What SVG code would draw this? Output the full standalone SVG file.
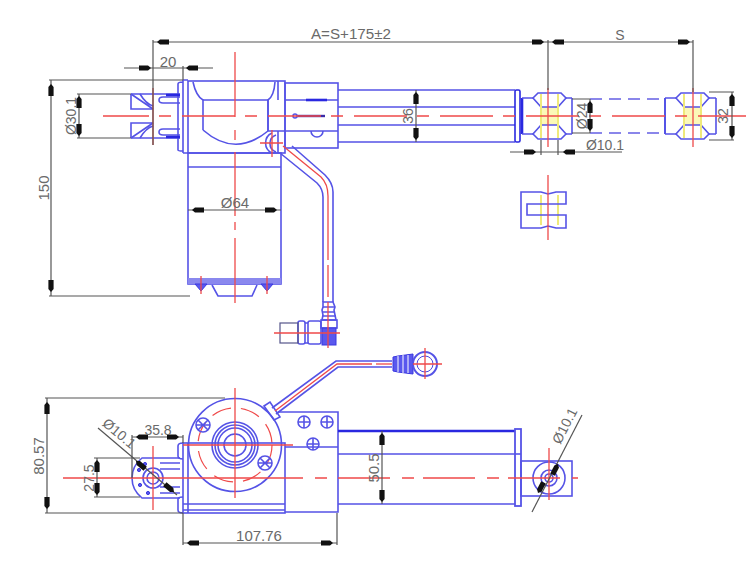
<svg xmlns="http://www.w3.org/2000/svg" xmlns:xlink="http://www.w3.org/1999/xlink" width="750" height="574" viewBox="0 0 750 574">
<style>
.b{fill:none;stroke:#5553e6;stroke-width:1.6}
.bt{fill:none;stroke:#2a28e0;stroke-width:2.6}
.bd{fill:none;stroke:#8a86ea;stroke-width:1.8;stroke-dasharray:12 7}
.bf{fill:#5a58ee;stroke:#3a38e0;stroke-width:1}
.r{fill:none;stroke:#ef4a4a;stroke-width:1.3}
.rd{fill:none;stroke:#ef4a4a;stroke-width:1.3}
.rc{fill:none;stroke:#ef4a4a;stroke-width:1.2;stroke-dasharray:20 10}
.y{fill:none;stroke:#efe97a;stroke-width:2}
.d{fill:none;stroke:#555;stroke-width:1.2}
.t{font-family:"Liberation Sans",Arial,sans-serif;font-size:14px;fill:#6a6a6a;text-anchor:middle}
.ar{fill:#111}
</style>
<defs>
<path id="ar" class="ar" d="M0 0L-3 -2.6L-12 -2.6L-12 2.6L-3 2.6Z"/>
<g id="clv">
<rect x="8" y="-9" width="17" height="18" fill="#fbf8b8"/>
<path class="b" d="M0 -18L5 -23L28 -23L33 -18L25 -9L8 -9Z"/>
<path class="b" d="M0 18L5 23L28 23L33 18L25 9L8 9Z"/>
<path class="y" d="M8 -22V22M25 -22V22"/>
</g>
<g id="scr">
<circle class="b" r="6"/><path class="b" d="M-6 0H6M0 -6V6"/>
</g>
</defs>

<g id="motor-top">
<rect class="b" x="188" y="153" width="93" height="131"/>
<path class="b" d="M188 167H281"/>
<rect x="188" y="278" width="93" height="6" fill="#8a88ee"/>
<path class="b" d="M212 285L218 296H252L257 285"/>
<path class="bf" d="M195 284H207L201 291ZM261 284H273L267 291Z"/>
<path class="r" d="M201 276V294M267 276V294"/>
</g>

<g id="body-top">
<rect class="b" x="188" y="81" width="97" height="72"/>
<rect class="b" x="285" y="83" width="53" height="65"/>
<path class="b" d="M183 80H188M183 153H188M183 80V153M178 84Q178 82 183 82M178 84V150Q178 151 183 151"/>
<path class="b" d="M193 82Q196 96 203 100V130M275 82Q274 96 268 100V131"/>
<path class="b" d="M203 100H268M203 130Q235 158 268 131M268 100V131"/>
<path class="b" d="M278 81V100M278 131V153M285 100H338M268 131H338"/>
<path class="bt" d="M306 100H327"/>
<path class="b" d="M311 131A6 6 0 0 0 323 131"/>
<path d="M297 116H325" stroke="#3a2aa8" stroke-width="2.4" fill="none"/>
<circle class="b" cx="295" cy="116" r="2"/>
</g>

<g id="rod-top">
<path class="b" d="M338 90H515M338 142H515M338 107H515M338 125H515"/>
<rect class="bt" x="515" y="90" width="5" height="52" rx="1.5" style="stroke-width:1.6"/>
<path class="bt" d="M522 98V134"/>
<path class="b" d="M522 98H533M522 134H533M566 98H572M566 134H572M572 98V134"/>
</g>

<g id="clevis-front">
<use xlink:href="#clv" href="#clv" transform="translate(533 116)"/>
</g>

<g id="rod-ext">
<path class="bd" d="M590 99H665M590 133H665"/>
<path class="bt" d="M665 98V134" style="stroke-width:1.6"/>
<path class="b" d="M665 98H676M665 134H676M709 98H716M709 134H716M716 98V134"/>
<use xlink:href="#clv" href="#clv" transform="translate(676 116)"/>
</g>

<g id="clevis-side">
<path class="y" d="M541 195V225M558 195V225"/>
<path class="b" d="M521 192H541L548 194L556 192H566V204H527V215H566V228H556L548 226L541 228H521Z"/>
</g>

<g id="clevis-rear">
<path class="b" d="M131 94H180M131 94V109H153M131 138V123H153M131 138H180"/>
<path class="b" d="M131 94L153 109M131 138L153 123M140 94Q146 104 153 106M140 138Q146 128 153 126"/>
<path class="b" d="M180 97H163Q159 97 159 100Q159 103 163 103H180M180 135H163Q159 135 159 132Q159 129 163 129H180"/>
<path class="bt" d="M166 95H180M166 137H180"/>
</g>

<g id="cable-top">
<path class="b" d="M280 153L317 183Q323 189 323 197V302M292 146L325 175Q333 183 333 192V302"/>
<path class="b" d="M272 133A11 11 0 0 0 272 153M276 135A9 9 0 0 0 276 152"/>
<path class="r" d="M283 146L321 177Q328 184 328 196V260M328 265V297"/>
<path class="r" d="M260 143H283M272 130V157"/>
</g>

<g id="plug-top">
<path class="b" d="M323 302H333L335 307L334 310L335 315L336 320H322L323 315L322 310L323 307Z"/>
<path class="b" d="M323 307H335M322 312H335M322 316H336"/>
<rect class="b" x="321" y="320" width="16" height="8"/>
<rect class="bf" x="322" y="328" width="14" height="17"/>
<rect class="b" x="308" y="321" width="13" height="23" rx="2"/>
<rect class="b" x="298" y="321" width="7" height="23" rx="2"/>
<path class="b" d="M305 323H308M305 343H308"/>
<rect x="280" y="323" width="18" height="20" fill="none" stroke="#55558a" stroke-width="1.2"/>
<path class="r" d="M274 333H340M328 302V348"/>
</g>

<g id="housing-bottom">
<circle class="b" cx="235" cy="445" r="46.5"/>
<circle class="rc" cx="235" cy="445" r="37"/>
<circle class="b" cx="235" cy="445" r="23"/>
<circle class="b" cx="235" cy="445" r="20"/>
<circle class="b" cx="235" cy="445" r="17"/>
<circle class="b" cx="235" cy="445" r="11"/>
<circle class="b" cx="203" cy="425" r="7"/>
<path class="b" d="M198 420L208 430M208 420L198 430M196 425H210"/>
<circle class="b" cx="265" cy="463" r="7"/>
<path class="b" d="M260 458L270 468M270 458L260 468M258 463H272"/>
<rect class="b" x="183" y="443" width="102" height="70"/>
<path class="b" d="M188 443V513M183 504H285M183 510H285"/>
<path class="b" d="M278 412H338V512H285M285 447H338"/>
<path class="b" d="M178 446Q178 443 183 443M178 446V456Q178 459 183 459M178 499Q178 497 183 497M178 499V510Q178 513 183 513"/>
<use xlink:href="#scr" href="#scr" transform="translate(304 422)"/>
<use xlink:href="#scr" href="#scr" transform="translate(327 422)"/>
<use xlink:href="#scr" href="#scr" transform="translate(313 444)"/>
<path class="b" d="M264 406L270 402L280 417L274 420Z"/>
</g>

<g id="rod-bottom">
<path class="bt" d="M338 431H515"/>
<path class="b" d="M338 454H515M338 504H515"/>
<rect class="b" x="515" y="429" width="6" height="77" style="stroke-width:1.8"/>
<path class="b" d="M515 454H521"/>
</g>

<g id="end-bottom">
<rect class="b" x="521" y="461" width="51" height="35"/>
<circle class="b" cx="549" cy="478" r="16"/>
<circle class="b" cx="549" cy="478" r="8"/>
<circle class="b" cx="549" cy="478" r="4"/>
</g>

<g id="clevis-bottom">
<path class="b" d="M180 458H142Q132 466 132 478Q132 490 142 498H180"/>
<path class="b" d="M160 463H180M160 469H180M160 487H180M160 493H180"/>
<circle class="b" cx="153" cy="478" r="10"/>
<circle class="b" cx="153" cy="478" r="6"/>
<circle class="bf" cx="139" cy="470" r="1.6"/>
<circle class="bf" cx="140" cy="485" r="1.6"/>
<circle class="bf" cx="148" cy="493" r="1.6"/>
<circle class="bf" cx="145" cy="464" r="1.6"/>
</g>

<g id="cable-bottom">
<path class="b" d="M272 408L336 361H392M276 414L338 367H392"/>
<path class="r" d="M275 411L337 364H372"/>
<path class="r" d="M376 364H392"/>
<path class="bf" d="M393 357L398 356L413 354V374L398 372L393 371Z"/>
<path d="M398 356V372M403 355V373M408 355V373" stroke="#fff" stroke-width="1"/>
<circle class="b" cx="425" cy="364" r="12" style="stroke-width:2"/>
<circle fill="#fff" stroke="#4a48e0" cx="425" cy="364" r="8"/>
</g>

<g id="centerlines">
<path class="rd" stroke-dasharray="53 10 12 11" stroke-dashoffset="7" d="M103 116H746"/>
<path class="r" d="M153 88V145M548 88V147M693 88V147M548 175V240"/>
<path class="r" d="M235 52V117M235 130V140M235 152V216M235 222V230M235 238V303"/>
<path class="r" d="M183 445H293M235 388V498M153 446V510M549 448V500M413 364H442M425 348V379"/>
<path class="r" d="M63 478H303M315 478H327"/>
<path class="rd" stroke-dasharray="52 12 12 9" d="M338 478H578"/>
</g>

<g id="dimensions">
<path class="d" d="M153 40V145M153 42H548M548 40V90M548 42H693M693 40V92"/>
<use xlink:href="#ar" href="#ar" transform="translate(157 42) rotate(180)"/>
<use xlink:href="#ar" href="#ar" transform="translate(544 42)"/>
<use xlink:href="#ar" href="#ar" transform="translate(552 42) rotate(180)"/>
<use xlink:href="#ar" href="#ar" transform="translate(690 42)"/>
<text class="t" x="351" y="39" textLength="80" lengthAdjust="spacingAndGlyphs">A=S+175±2</text>
<text class="t" x="620" y="40">S</text>

<path class="d" d="M124 68H213M183 66V80"/>
<use xlink:href="#ar" href="#ar" transform="translate(151 68)"/>
<use xlink:href="#ar" href="#ar" transform="translate(186 68) rotate(180)"/>
<text class="t" x="168" y="67" style="font-size:15px">20</text>

<path class="d" d="M49 80H183M51 80V296M49 296H190"/>
<use xlink:href="#ar" href="#ar" transform="translate(51 84) rotate(-90)"/>
<use xlink:href="#ar" href="#ar" transform="translate(51 292) rotate(90)"/>
<text class="t" transform="translate(49 188) rotate(-90)" style="font-size:15px">150</text>

<path class="d" d="M77 94H131M77 138H131M79 94V138"/>
<use xlink:href="#ar" href="#ar" transform="translate(79 96) rotate(-90)"/>
<use xlink:href="#ar" href="#ar" transform="translate(79 136) rotate(90)"/>
<text class="t" transform="translate(76 116) rotate(-90)">Ø30.1</text>

<path class="d" d="M416 90V142"/>
<use xlink:href="#ar" href="#ar" transform="translate(416 92) rotate(-90)"/>
<use xlink:href="#ar" href="#ar" transform="translate(416 140) rotate(90)"/>
<text class="t" transform="translate(413 116) rotate(-90)">36</text>

<path class="d" d="M572 99H590M572 133H590M590 99V133"/>
<use xlink:href="#ar" href="#ar" transform="translate(590 101) rotate(-90)"/>
<use xlink:href="#ar" href="#ar" transform="translate(590 131) rotate(90)"/>
<text class="t" transform="translate(587 116) rotate(-90)">Ø24</text>

<path class="d" d="M709 92H734M709 140H734M732 92V140"/>
<use xlink:href="#ar" href="#ar" transform="translate(732 94) rotate(-90)"/>
<use xlink:href="#ar" href="#ar" transform="translate(732 138) rotate(90)"/>
<text class="t" transform="translate(728 116) rotate(-90)">32</text>

<path class="d" d="M510 152H622M541 140V155M558 140V155"/>
<use xlink:href="#ar" href="#ar" transform="translate(536 152)"/>
<use xlink:href="#ar" href="#ar" transform="translate(563 152) rotate(180)"/>
<text class="t" x="605" y="150">Ø10.1</text>

<path class="d" d="M188 210H281"/>
<use xlink:href="#ar" href="#ar" transform="translate(192 210) rotate(180)"/>
<use xlink:href="#ar" href="#ar" transform="translate(277 210)"/>
<text class="t" x="235" y="208" style="font-size:15px">Ø64</text>

<path class="d" d="M45 398H225M45 513H183M47 398V513"/>
<use xlink:href="#ar" href="#ar" transform="translate(47 402) rotate(-90)"/>
<use xlink:href="#ar" href="#ar" transform="translate(47 509) rotate(90)"/>
<text class="t" transform="translate(44 456) rotate(-90)" style="font-size:15px">80.57</text>

<path class="d" d="M132 435V478M183 435V443M132 437H183"/>
<use xlink:href="#ar" href="#ar" transform="translate(136 437) rotate(180)"/>
<use xlink:href="#ar" href="#ar" transform="translate(179 437)"/>
<text class="t" x="158" y="435">35.8</text>

<path class="d" d="M94 458H140M94 497H140M97 458V497"/>
<use xlink:href="#ar" href="#ar" transform="translate(97 460) rotate(-90)"/>
<use xlink:href="#ar" href="#ar" transform="translate(97 495) rotate(90)"/>
<text class="t" transform="translate(94 478) rotate(-90)">27.5</text>

<path class="d" d="M98 428L177 495"/>
<use xlink:href="#ar" href="#ar" transform="translate(136 461) rotate(220)"/>
<use xlink:href="#ar" href="#ar" transform="translate(174 492) rotate(40)"/>
<text class="t" transform="translate(116 437) rotate(40)">Ø10.1</text>

<path class="d" d="M183 513V545M337 513V545M183 543H337"/>
<use xlink:href="#ar" href="#ar" transform="translate(187 543) rotate(180)"/>
<use xlink:href="#ar" href="#ar" transform="translate(333 543)"/>
<text class="t" x="259" y="541" style="font-size:15px">107.76</text>

<path class="d" d="M382 431V504"/>
<use xlink:href="#ar" href="#ar" transform="translate(382 433) rotate(-90)"/>
<use xlink:href="#ar" href="#ar" transform="translate(382 502) rotate(90)"/>
<text class="t" transform="translate(379 468) rotate(-90)" style="font-size:15px">50.5</text>

<path class="d" d="M532 512L582 415"/>
<use xlink:href="#ar" href="#ar" transform="translate(538 493) rotate(117)"/>
<use xlink:href="#ar" href="#ar" transform="translate(558 464) rotate(-63)"/>
<text class="t" transform="translate(569 428) rotate(-63)">Ø10.1</text>
</g>
</svg>
